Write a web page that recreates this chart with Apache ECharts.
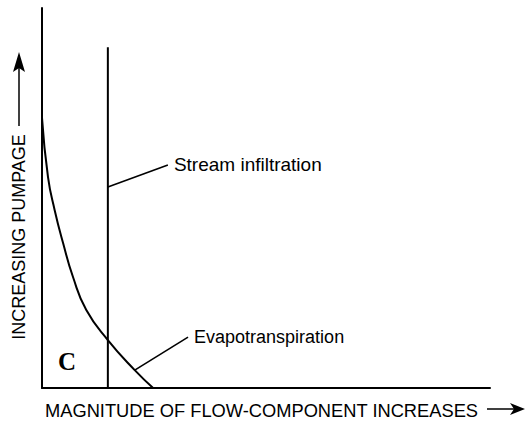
<!DOCTYPE html>
<html>
<head>
<meta charset="utf-8">
<script src="https://cdn.jsdelivr.net/npm/echarts@6/dist/echarts.min.js"></script>
<style>
  html, body { margin: 0; padding: 0; background: #fff; }
  #chart { width: 532px; height: 425px; }
</style>
</head>
<body>
<div id="chart"></div>
<script>
// Relative magnitudes (0-100 on both axes)
const evapotranspirationCurve = [
  [0, 71.1], [1.34, 55.5], [2.83, 46.8], [4.69, 38.2], [6.92, 29.2],
  [9.89, 20.5], [14.7, 12.6], [20.7, 4.7], [24.8, 0]
];
const streamInfiltrationLine = [[14.7, 0], [14.7, 89.7]];
const streamLeader = [[14.7, 52.9], [28.1, 58.7]];
const evapLeader = [[20.7, 4.7], [32.6, 13.4]];
const labels = {
  stream: 'Stream infiltration',
  evap: 'Evapotranspiration',
  panel: 'C',
  xTitle: 'MAGNITUDE OF FLOW-COMPONENT INCREASES',
  yTitle: 'INCREASING PUMPAGE'
};

const chart = echarts.init(document.getElementById('chart'), null, { renderer: 'svg' });

const SANS = '"Liberation Sans", Arial, Helvetica, sans-serif';
const lineStyle = { color: '#000', width: 2 };

function leader(data, text, size) {
  return {
    type: 'line',
    data: data,
    symbol: 'none', showSymbol: false,
    lineStyle: { color: '#000', width: 1.6 },
    endLabel: {
      show: true, distance: 6,
      formatter: text, color: '#000', fontSize: size, fontFamily: SANS
    },
    silent: true, animation: false
  };
}

chart.setOption({
  backgroundColor: '#fff',
  animation: false,
  grid: { left: 42, right: 42, top: 8, bottom: 37 },
  xAxis: {
    type: 'value', min: 0, max: 100,
    axisLine: { show: true, onZero: false, lineStyle: lineStyle },
    axisTick: { show: false }, axisLabel: { show: false }, splitLine: { show: false }
  },
  yAxis: {
    type: 'value', min: 0, max: 100,
    axisLine: { show: true, onZero: false, lineStyle: lineStyle },
    axisTick: { show: false }, axisLabel: { show: false }, splitLine: { show: false }
  },
  series: [
    {
      type: 'line', data: evapotranspirationCurve,
      smooth: 0.5,
      symbol: 'none', lineStyle: { color: '#000', width: 2 }
    },
    {
      type: 'line', data: streamInfiltrationLine,
      symbol: 'none', lineStyle: { color: '#000', width: 2 }
    },
    leader(streamLeader, labels.stream, 19),
    leader(evapLeader, labels.evap, 18)
  ],
  graphic: [
    {
      type: 'text', x: 67, y: 361,
      style: {
        text: labels.panel, fill: '#000',
        font: 'bold 25px "Liberation Serif", "DejaVu Serif", serif',
        textAlign: 'center', textVerticalAlign: 'middle'
      }
    },
    {
      type: 'text', x: 45, y: 410,
      style: {
        text: labels.xTitle, fill: '#000', font: '18.3px ' + SANS,
        textAlign: 'left', textVerticalAlign: 'middle'
      }
    },
    {
      type: 'line', shape: { x1: 487, y1: 409, x2: 516, y2: 409 },
      style: { stroke: '#000', lineWidth: 1.5 }
    },
    {
      type: 'polygon', shape: { points: [[510, 403], [525, 409], [510, 415], [514, 409]] },
      style: { fill: '#000' }
    },
    {
      type: 'text', x: 19, y: 237, rotation: Math.PI / 2,
      style: {
        text: labels.yTitle, fill: '#000', font: '18px ' + SANS,
        textAlign: 'center', textVerticalAlign: 'middle'
      }
    },
    {
      type: 'line', shape: { x1: 19, y1: 126, x2: 19, y2: 64 },
      style: { stroke: '#000', lineWidth: 1.5 }
    },
    {
      type: 'polygon', shape: { points: [[13, 72], [19, 52], [25, 72], [19, 68]] },
      style: { fill: '#000' }
    }
  ]
});
</script>
</body>
</html>
